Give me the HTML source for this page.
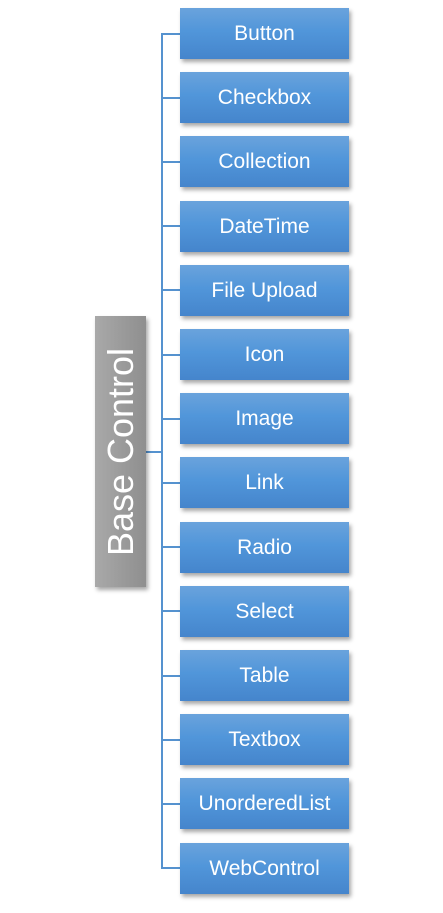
<!DOCTYPE html>
<html><head><style>
body{margin:0;width:443px;height:913px;background:#fff;position:relative;overflow:hidden;font-family:"Liberation Sans",sans-serif}
.b{position:absolute;left:180px;width:169px;height:51px;background:linear-gradient(#6aa3dc,#5196da 45%,#4585cc);color:#fff;font-size:21px;display:flex;align-items:center;justify-content:center;box-shadow:2px 3px 4px rgba(0,0,0,.35)}
.base{position:absolute;left:95px;top:316px;width:51px;height:271px;background:linear-gradient(90deg,#a9a9a9,#999 60%,#8f8f8f);box-shadow:2px 3px 4px rgba(0,0,0,.35)}
.base span{position:absolute;left:50%;top:50%;transform:translate(-50%,-50%) rotate(-90deg);color:#fff;font-size:36px;white-space:nowrap}
.l{position:absolute;background:#5592cf}
</style></head><body>
<div class="l" style="left:161px;top:33px;width:2px;height:836px"></div>
<div class="l" style="left:146px;top:451px;width:16px;height:2px"></div>
<div class="base"><span>Base Control</span></div>
<script>
var n=["Button","Checkbox","Collection","DateTime","File Upload","Icon","Image","Link","Radio","Select","Table","Textbox","UnorderedList","WebControl"];
n.forEach(function(t,i){var y=8+i*64.2;
document.write('<div class="l" style="left:162px;top:'+Math.round(y+24.5)+'px;width:18px;height:2px"></div><div class="b" style="top:'+Math.round(y)+'px">'+t+'</div>');});
</script>
</body></html>
